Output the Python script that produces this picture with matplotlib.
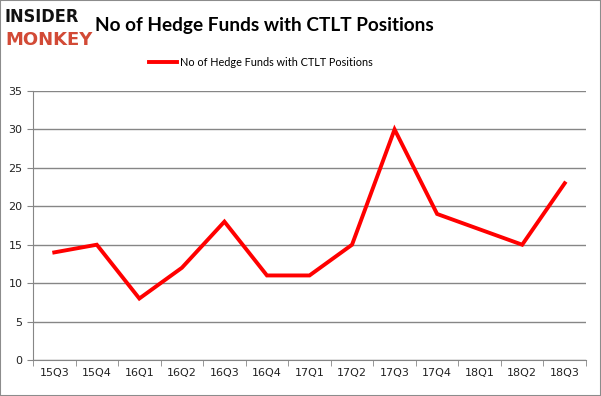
import matplotlib
matplotlib.use("Agg")
import matplotlib.pyplot as plt
from matplotlib.patches import Rectangle

categories = ["15Q3", "15Q4", "16Q1", "16Q2", "16Q3", "16Q4", "17Q1",
              "17Q2", "17Q3", "17Q4", "18Q1", "18Q2", "18Q3"]
values = [14, 15, 8, 12, 18, 11, 11, 15, 30, 19, 17, 15, 23]
yticks = [0, 5, 10, 15, 20, 25, 30, 35]
series_name = "No of Hedge Funds with CTLT Positions"
title = "No of Hedge Funds with CTLT Positions"

fig = plt.figure(figsize=(6.01, 3.96), dpi=100)
ax = fig.add_axes([33/601, 1-360/396, (586-33)/601, (360-91)/396])

x = list(range(len(categories)))
ax.plot(x, values, color="#ff0000", lw=2.8, solid_joinstyle="miter",
        label=series_name)
ax.set_xlim(-0.5, len(categories)-0.5)
ax.set_ylim(0, 35)
ax.set_yticks(yticks)
ax.set_xticks(x)
ax.set_xticklabels(categories)
ax.yaxis.grid(True, color="#868686", lw=1)
ax.set_axisbelow(True)
for s in ["top", "right"]:
    ax.spines[s].set_visible(False)
for s in ["left", "bottom"]:
    ax.spines[s].set_color("#868686")
ax.tick_params(axis="both", colors="#868686", labelcolor="#222222",
               labelsize=8, length=4)
ax.set_xticks([i + 0.5 for i in range(-1, len(categories))], minor=True)
ax.tick_params(axis="x", which="major", length=0, pad=6)
ax.tick_params(axis="x", which="minor", length=4, color="#868686")

leg = fig.legend(loc="center", bbox_to_anchor=(261/601, 1-62/396),
                 frameon=False, prop={"family": "Lato", "size": 7.8},
                 handlelength=2.6, handletextpad=0.3)

fig.text(95/601, 1-25/396, title, fontsize=13.7, fontweight="bold",
         family="Lato", va="center", ha="left", color="#000000")
fig.text(5/601, 1-17/396, "INSIDER", fontsize=13, fontweight="heavy",
         family="DejaVu Sans", va="center", ha="left", color="#111111",
         fontstretch="condensed")
fig.text(5/601, 1-40/396, "MONKEY", fontsize=13, fontweight="heavy",
         family="DejaVu Sans", va="center", ha="left", color="#d24a36")

fig.patches.append(Rectangle((0, 0), 1, 1, transform=fig.transFigure,
                             fill=False, edgecolor="#8c8c8c", lw=1.5))
fig.savefig("out.png", dpi=100)
